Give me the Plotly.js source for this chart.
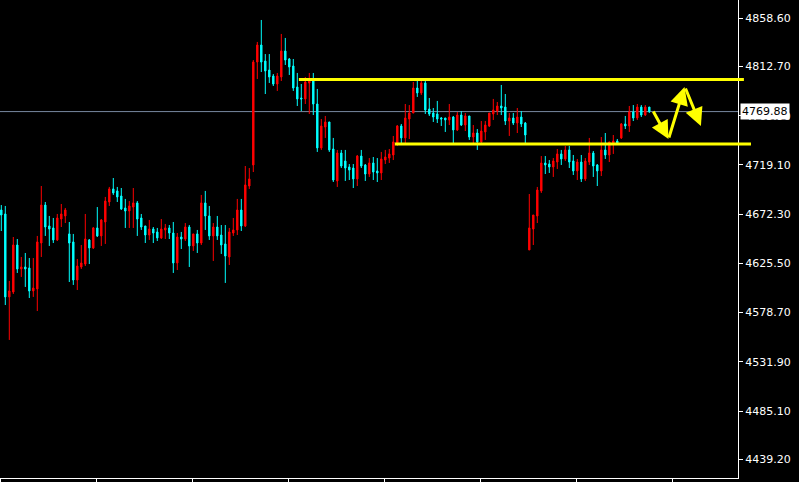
<!DOCTYPE html>
<html>
<head>
<meta charset="utf-8">
<script src="https://cdn.plot.ly/plotly-3.0.1.min.js"></script>
<style>html,body{margin:0;padding:0;background:#000;}#chart{width:799px;height:482px;}</style>
</head>
<body>
<div id="chart"></div>
<script>
const openP = [4676.3,4672.5,4593.6,4598.3,4643.0,4620.2,4622.1,4621.1,4599.3,4601.2,
4644.9,4681.0,4661.1,4659.2,4647.8,4667.7,4670.6,4653.5,4645.9,4609.7,
4622.1,4624.9,4647.8,4640.2,4659.2,4651.6,4664.9,4683.9,4696.3,4694.4,
4689.6,4678.2,4675.3,4679.1,4683.0,4668.7,4661.1,4652.5,4658.2,4655.4,
4649.7,4657.3,4659.2,4654.4,4625.9,4650.6,4648.7,4660.1,4642.1,4653.5,
4644.9,4683.0,4670.6,4651.6,4660.1,4652.5,4644.0,4631.6,4654.4,4657.3,
4676.3,4661.1,4699.1,4719.1,4817.0,4833.2,4818.0,4809.4,4803.7,4796.1,
4802.8,4827.5,4819.9,4813.2,4793.3,4782.8,4781.9,4797.1,4799.0,4777.1,
4735.3,4755.2,4760.0,4734.3,4703.9,4730.5,4722.9,4717.2,4716.2,4705.8,
4727.6,4719.1,4710.5,4721.0,4713.4,4711.5,4723.8,4725.7,4728.6,4740.0,
4756.2,4744.8,4762.8,4768.5,4792.3,4787.6,4797.1,4772.3,4768.5,4767.6,
4763.8,4763.8,4761.9,4764.7,4752.4,4766.6,4757.1,4765.7,4745.7,4749.5,
4741.0,4750.5,4756.2,4767.6,4770.4,4775.2,4774.2,4760.9,4763.8,4759.0,
4764.7,4759.0,4638.3,4658.2,4670.6,4694.4,4721.0,4720.0,4717.2,4721.9,
4729.6,4724.8,4733.4,4722.9,4713.4,4721.9,4705.8,4721.9,4730.5,4719.1,
4713.4,4733.4,4728.6,4740.0,4741.9,4744.8,4758.1,4756.2,4769.5,4763.8,
4774.2,4766.6,4774.2];
const highP = [4681.0,4680.1,4608.8,4650.6,4648.7,4631.6,4635.4,4630.6,4630.6,4651.6,
4699.1,4683.9,4670.6,4668.7,4672.5,4682.0,4678.2,4664.9,4653.5,4629.7,
4643.0,4672.5,4648.7,4660.1,4679.1,4667.7,4688.7,4698.2,4706.7,4698.2,
4697.2,4686.8,4684.8,4697.2,4684.8,4672.5,4661.1,4666.8,4660.1,4659.2,
4667.7,4663.0,4662.0,4664.9,4654.4,4655.4,4663.9,4662.0,4653.5,4657.3,
4690.6,4694.4,4680.1,4663.9,4670.6,4662.0,4662.0,4659.2,4668.7,4686.8,
4686.8,4718.1,4716.2,4818.9,4836.1,4857.0,4824.6,4824.6,4805.6,4806.6,
4843.7,4839.9,4820.8,4819.9,4806.6,4796.1,4802.8,4806.6,4806.6,4791.4,
4762.8,4765.7,4760.0,4744.8,4733.4,4733.4,4733.4,4720.0,4720.0,4728.6,
4733.4,4720.0,4725.7,4726.7,4725.7,4731.5,4733.4,4734.3,4746.7,4757.1,
4758.1,4777.1,4776.1,4798.0,4799.0,4799.0,4799.0,4782.8,4773.3,4780.0,
4764.7,4763.8,4777.1,4765.7,4769.5,4770.4,4768.5,4765.7,4757.1,4753.3,
4760.9,4760.9,4768.5,4781.9,4779.0,4795.2,4786.6,4768.5,4768.5,4773.3,
4770.4,4760.0,4691.5,4671.5,4698.2,4727.6,4727.6,4723.8,4725.7,4734.3,
4733.4,4737.2,4737.2,4728.6,4724.8,4728.6,4725.7,4744.8,4732.4,4720.0,
4745.7,4749.5,4741.0,4747.6,4743.8,4759.0,4765.7,4775.2,4776.1,4777.1,
4776.1,4776.1,4774.2];
const lowP = [4656.3,4585.9,4552.7,4596.4,4616.4,4612.6,4603.1,4592.6,4593.6,4580.2,
4631.6,4651.6,4642.1,4644.9,4646.8,4660.1,4663.9,4607.8,4605.0,4600.2,
4620.2,4623.0,4624.9,4639.2,4650.6,4642.1,4644.0,4680.1,4690.6,4683.9,
4676.3,4659.2,4659.2,4659.2,4651.6,4657.3,4644.9,4647.8,4644.9,4646.8,
4648.7,4648.7,4648.7,4616.4,4619.2,4639.2,4646.8,4622.1,4637.3,4635.4,
4643.0,4657.3,4647.8,4627.8,4647.8,4634.5,4606.9,4624.0,4651.6,4652.5,
4656.3,4660.1,4696.3,4712.4,4800.9,4807.5,4786.6,4797.1,4794.2,4789.5,
4799.0,4814.2,4804.7,4789.5,4775.2,4770.4,4777.1,4767.6,4766.6,4731.5,
4733.4,4744.8,4731.5,4702.9,4698.2,4716.2,4703.9,4704.8,4697.2,4699.1,
4716.2,4703.9,4707.7,4704.8,4702.9,4704.8,4720.0,4721.0,4723.8,4737.2,
4739.1,4740.0,4743.8,4768.5,4783.8,4785.7,4767.6,4765.7,4760.0,4759.0,
4756.2,4750.5,4757.1,4740.0,4751.4,4756.2,4751.4,4742.9,4740.0,4733.4,
4740.0,4742.9,4755.2,4761.9,4766.6,4766.6,4757.1,4746.7,4757.1,4749.5,
4755.2,4740.0,4638.3,4643.0,4663.9,4692.5,4710.5,4711.5,4707.7,4715.3,
4719.1,4722.9,4716.2,4709.6,4704.8,4702.9,4703.9,4719.1,4707.7,4699.1,
4708.6,4724.8,4721.9,4729.6,4740.0,4743.8,4753.3,4750.5,4760.9,4761.9,
4764.7,4765.7,4768.5];
const closeP = [4671.5,4593.6,4599.3,4643.0,4620.2,4622.1,4620.2,4599.3,4602.1,4645.9,
4681.0,4660.1,4658.2,4647.8,4668.7,4672.5,4676.3,4644.9,4609.7,4623.0,
4625.9,4648.7,4640.2,4659.2,4651.6,4666.8,4684.8,4696.3,4692.5,4688.7,
4677.2,4675.3,4680.1,4683.0,4667.7,4660.1,4652.5,4658.2,4654.4,4649.7,
4658.2,4659.2,4654.4,4625.9,4650.6,4648.7,4660.1,4642.1,4653.5,4644.9,
4683.0,4670.6,4651.6,4660.1,4651.6,4643.0,4632.5,4655.4,4657.3,4676.3,
4661.1,4700.1,4705.8,4817.0,4833.2,4817.0,4808.5,4802.8,4796.1,4803.7,
4827.5,4818.9,4812.3,4792.3,4781.9,4781.9,4798.0,4799.0,4777.1,4735.3,
4756.2,4760.0,4733.4,4704.8,4730.5,4718.1,4716.2,4714.3,4705.8,4727.6,
4718.1,4710.5,4721.0,4712.4,4711.5,4724.8,4726.7,4729.6,4741.0,4756.2,
4744.8,4763.8,4768.5,4792.3,4787.6,4797.1,4771.4,4767.6,4764.7,4762.8,
4762.8,4761.9,4764.7,4752.4,4766.6,4757.1,4765.7,4745.7,4749.5,4741.0,
4751.4,4757.1,4768.5,4771.4,4775.2,4773.3,4760.9,4763.8,4759.0,4764.7,
4758.1,4747.6,4659.2,4671.5,4695.3,4721.0,4719.1,4717.2,4722.9,4729.6,
4724.8,4733.4,4721.9,4713.4,4721.9,4705.8,4722.9,4730.5,4718.1,4713.4,
4733.4,4728.6,4741.0,4741.9,4740.0,4758.1,4756.2,4769.5,4763.8,4774.2,
4766.6,4774.2,4769.9];
const tickVals = [4858.6,4812.7,4765.9,4719.1,4672.3,4625.5,4578.7,4531.9,4485.1,4439.2];
const tickText = ['4858.60','4812.70','4765.90','4719.10','4672.30','4625.50','4578.70','4531.90','4485.10','4439.20'];
const lastPrice = 4769.88;
const resistance = 4800.4;
const support = 4739.1;

const xIdx = openP.map((_, i) => i);

const trace = {
  type: 'candlestick', x: xIdx, open: openP, high: highP, low: lowP, close: closeP,
  increasing: {line: {color: '#FF0000', width: 1}, fillcolor: '#FF0000'},
  decreasing: {line: {color: '#00FFFF', width: 1}, fillcolor: '#00FFFF'},
  whiskerwidth: 0, hoverinfo: 'skip'
};

const yellow = '#FFFF00';
const layout = {
  width: 799, height: 482,
  margin: {l: 0, r: 61, t: 0, b: 4, pad: 0},
  paper_bgcolor: '#000', plot_bgcolor: '#000',
  showlegend: false, boxgap: 0.5,
  font: {family: 'DejaVu Sans', size: 11, color: '#FFFFFF'},
  xaxis: {range: [-0.325, 184.175], showgrid: false, zeroline: false, showline: true,
    linecolor: '#FFFFFF', linewidth: 1, ticks: 'outside', ticklen: 4, tickcolor: '#FFFFFF',
    tickmode: 'linear', tick0: -0.1, dtick: 24, showticklabels: false,
    rangeslider: {visible: false}, fixedrange: true},
  yaxis: {side: 'right', range: [4421.4, 4876.0], showgrid: false, zeroline: false, showline: true,
    linecolor: '#FFFFFF', linewidth: 1, ticks: 'outside', ticklen: 4, tickcolor: '#FFFFFF',
    tickmode: 'array', tickvals: tickVals, ticktext: tickText,
    tickfont: {family: 'DejaVu Sans', size: 11, color: '#FFFFFF'}, fixedrange: true},
  shapes: [
    {type: 'line', xref: 'paper', yref: 'y', x0: 0, x1: 1, y0: lastPrice, y1: lastPrice,
     line: {color: '#7888A0', width: 1}, layer: 'below'},
    {type: 'line', xref: 'paper', yref: 'y', x0: 0.405, x1: 1.008, y0: resistance, y1: resistance,
     line: {color: yellow, width: 3}},
    {type: 'line', xref: 'paper', yref: 'y', x0: 0.535, x1: 1.0176, y0: support, y1: support,
     line: {color: yellow, width: 3}}
  ],
  annotations: [
    {xref: 'paper', yref: 'y', x: 1, y: lastPrice, xanchor: 'left', yanchor: 'middle', xshift: 2,
     text: '4769.88', showarrow: false, bgcolor: '#FFFFFF', borderpad: 1,
     font: {family: 'DejaVu Sans', size: 11, color: '#000000'}},
    {xref: 'x', yref: 'y', x: 166.8, y: 4743.8, ax: -16, ay: -29, text: '', showarrow: true,
     arrowhead: 2, arrowsize: 1.2, arrowwidth: 3, arrowcolor: yellow, standoff: 0, startstandoff: 0},
    {xref: 'x', yref: 'y', x: 170.8, y: 4793.3, ax: -16, ay: 52, text: '', showarrow: true,
     arrowhead: 2, arrowsize: 1.2, arrowwidth: 3, arrowcolor: yellow, standoff: 0, startstandoff: 0},
    {xref: 'x', yref: 'y', x: 174.9, y: 4756.2, ax: -16, ay: -39, text: '', showarrow: true,
     arrowhead: 2, arrowsize: 1.2, arrowwidth: 3, arrowcolor: yellow, standoff: 0, startstandoff: 0}
  ]
};

Plotly.newPlot('chart', [trace], layout, {displayModeBar: false, staticPlot: true});
</script>
</body>
</html>
